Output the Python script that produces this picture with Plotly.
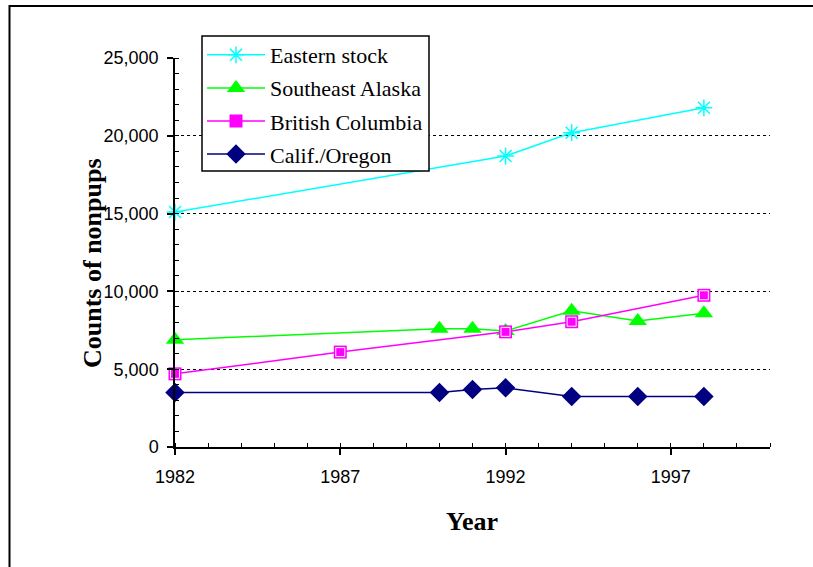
import plotly.graph_objects as go

# ---- data ----
eastern_years = [1982, 1992, 1994, 1998]
eastern_vals = [15100, 18700, 20200, 21800]

seak_years = [1982, 1990, 1991, 1992, 1994, 1996, 1998]
seak_vals = [6900, 7600, 7600, 7450, 8750, 8100, 8600]

bc_years = [1982, 1987, 1992, 1994, 1998]
bc_vals = [4700, 6100, 7400, 8050, 9750]

ca_years = [1982, 1990, 1991, 1992, 1994, 1996, 1998]
ca_vals = [3500, 3500, 3700, 3800, 3250, 3250, 3250]

x_ticks = [1982, 1987, 1992, 1997]
y_ticks = [0, 5000, 10000, 15000, 20000, 25000]

CYAN = "#00FFFF"
GREEN = "#00FF00"
MAGENTA = "#FF00FF"
NAVY = "#000080"

fig = go.Figure()

fig.add_trace(go.Scatter(
    x=eastern_years, y=eastern_vals, name="Eastern stock", legendgroup="a",
    mode="lines+markers", line=dict(color=CYAN, width=1.5),
    marker=dict(symbol="asterisk-open", size=14, line=dict(color=CYAN, width=1.5)),
    cliponaxis=False))
fig.add_trace(go.Scatter(
    x=seak_years, y=seak_vals, name="Southeast Alaska", legendgroup="b",
    mode="lines+markers", line=dict(color=GREEN, width=1.5),
    marker=dict(symbol="triangle-up", size=16, color=GREEN),
    cliponaxis=False))
fig.add_trace(go.Scatter(
    x=bc_years, y=bc_vals, name="British Columbia", legendgroup="c",
    mode="lines+markers", line=dict(color=MAGENTA, width=1.5),
    marker=dict(symbol="square", size=13, color=MAGENTA),
    cliponaxis=False))
fig.add_trace(go.Scatter(
    x=bc_years, y=bc_vals, legendgroup="c", showlegend=False, hoverinfo="skip",
    mode="markers",
    marker=dict(symbol="square", size=9, color=MAGENTA, line=dict(color="white", width=1)),
    cliponaxis=False))
fig.add_trace(go.Scatter(
    x=ca_years, y=ca_vals, name="Calif./Oregon", legendgroup="d",
    mode="lines+markers", line=dict(color=NAVY, width=1.5),
    marker=dict(symbol="diamond", size=15, color=NAVY),
    cliponaxis=False))

W, H = 813, 567
# plot area in window pixels (page margin removed below)
PL, PR, PT, PB = 175, 770, 58, 447
L = PL
T = PT
R = W - PR
B = H - PB
pw = PR - PL
ph = PB - PT

def px_x(p):
    return (p - PL) / pw

def px_y(p):
    return (PB - p) / ph

fig.update_layout(
    width=W, height=H,
    margin=dict(l=L, r=R, t=T, b=B, pad=0),
    paper_bgcolor="white", plot_bgcolor="white",
    showlegend=True,
    legend=dict(
        x=px_x(202), y=px_y(34), xanchor="left", yanchor="top",
        bgcolor="rgba(0,0,0,0)", borderwidth=0,
        font=dict(family="Liberation Serif", size=22, color="black"),
        tracegroupgap=1.5, itemwidth=58,
    ),
    xaxis=dict(
        range=[1982, 2000], tickvals=x_ticks, ticktext=[str(v) for v in x_ticks],
        showgrid=False, zeroline=False,
        showline=True, linecolor="black", linewidth=1.5,
        ticks="outside", ticklen=6, tickwidth=1.5, tickcolor="black",
        minor=dict(dtick=1, tick0=1982, ticks="inside", ticklen=4, tickwidth=1, tickcolor="black", showgrid=False),
        tickfont=dict(family="Liberation Sans", size=18, color="black"),
        ticklabelstandoff=7,
    ),
    yaxis=dict(
        range=[0, 25000], tickvals=y_ticks, ticktext=[f"{v:,}" for v in y_ticks],
        showgrid=True, gridcolor="black", griddash="dot", gridwidth=1,
        zeroline=False,
        showline=True, linecolor="black", linewidth=1.5,
        ticks="outside", ticklen=6, tickwidth=1.5, tickcolor="black",
        minor=dict(dtick=1000, tick0=0, ticks="inside", ticklen=4, tickwidth=1, tickcolor="black", showgrid=False),
        tickfont=dict(family="Liberation Sans", size=18, color="black"),
        ticklabelstandoff=5,
    ),
    annotations=[
        dict(text="<b>Counts of nonpups</b>", textangle=-90, xref="paper", yref="paper",
             x=px_x(92), y=px_y(263), xanchor="center", yanchor="middle", showarrow=False,
             font=dict(family="Liberation Serif", size=26, color="black")),
        dict(text="<b>Year</b>", xref="paper", yref="paper",
             x=px_x(472), y=px_y(521), xanchor="center", yanchor="middle", showarrow=False,
             font=dict(family="Liberation Serif", size=26, color="black")),
    ],
    shapes=[
        dict(type="rect", xref="paper", yref="paper",
             x0=px_x(9.5), x1=px_x(840), y0=px_y(600), y1=px_y(6),
             line=dict(color="black", width=2), fillcolor="rgba(0,0,0,0)", layer="below"),
        dict(type="rect", xref="paper", yref="paper",
             x0=px_x(202), x1=px_x(429), y0=px_y(171), y1=px_y(36),
             line=dict(color="black", width=1.5), fillcolor="white", layer="above"),
    ],
)

fig.write_html("out.html", config={"displayModeBar": False},
               post_script="document.body.style.margin='0';")
